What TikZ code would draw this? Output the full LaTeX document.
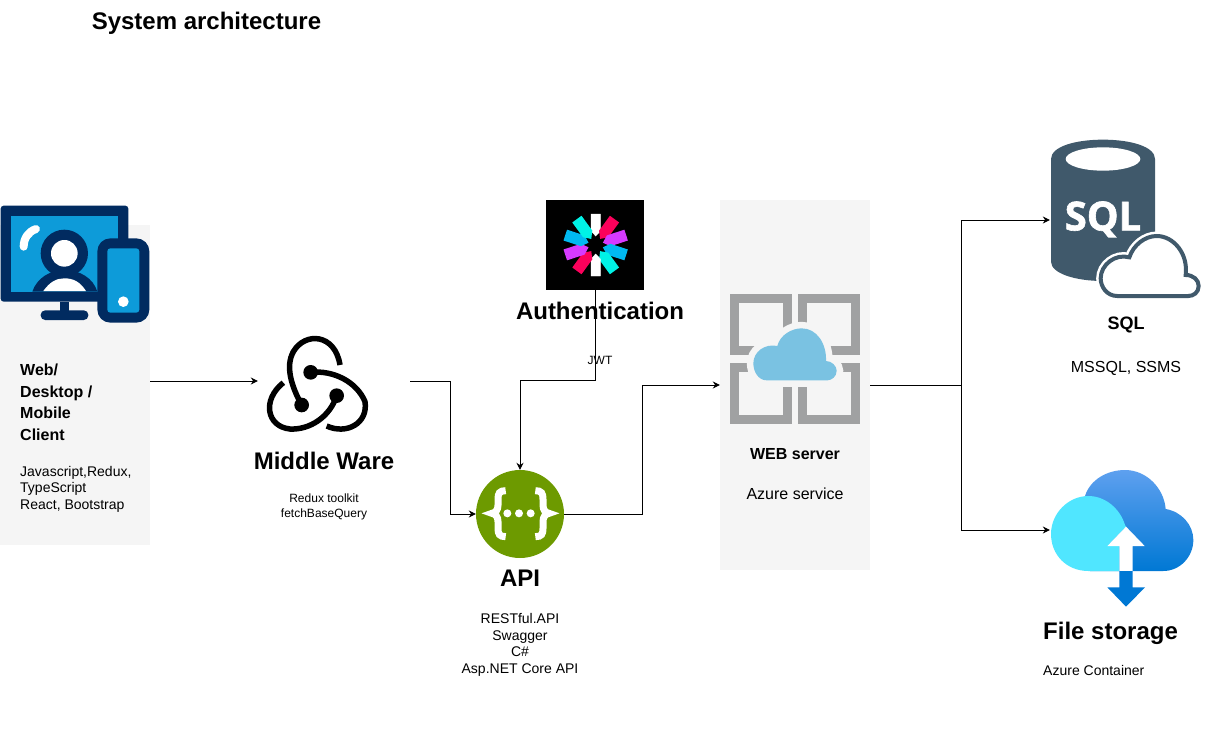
\documentclass[tikz,border=0pt]{standalone}
\usepackage{fontspec}
\setmainfont{Liberation Sans}
\newfontfamily\sqlfont[BoldFeatures={FakeBold=1.5}]{Open Sans}
\usepackage{tikz}
\usetikzlibrary{arrows.meta}
\definecolor{panelgray}{HTML}{F5F5F5}
\definecolor{clientnavy}{HTML}{012B60}
\definecolor{clientblue}{HTML}{0D9BD9}
\definecolor{jwtpink}{HTML}{FB015B}
\definecolor{jwtviolet}{HTML}{D63AFF}
\definecolor{jwtblue}{HTML}{00B9F1}
\definecolor{jwtteal}{HTML}{00F2E6}
\definecolor{apigreen}{HTML}{6D9A00}
\definecolor{webgray}{HTML}{A0A1A2}
\definecolor{webcloud}{HTML}{7AC2E2}
\definecolor{sqlslate}{HTML}{40596B}
\definecolor{storecyan}{HTML}{50E6FF}
\definecolor{storetop}{HTML}{5EA0EF}
\definecolor{storeblue}{HTML}{0078D4}
\tikzset{
  link/.style={->,>={Stealth[length=7pt,width=7pt]},line width=0.9pt},
  panel/.style={fill=panelgray,inner sep=0pt,minimum width=150pt},
  slot/.style={inner sep=0pt},
  heading/.style={font=\bfseries\fontsize{24}{28}\selectfont,inner sep=0pt},
  subheading/.style={font=\bfseries\fontsize{16}{21.5}\selectfont,inner sep=0pt},
  detail/.style={font=\fontsize{14}{16.5}\selectfont,inner sep=0pt},
  small/.style={font=\fontsize{12}{15}\selectfont,inner sep=0pt},
  plain/.style={font=\fontsize{16}{18}\selectfont,inner sep=0pt},
}
% one ray of the token logo: colour, angle, extra edge
\newcommand{\jwtray}[3]{\filldraw[#1,line width=#3,rotate around={-#2:(595.7,245)}] (591,214) -- (600.4,214) -- (600.4,231) -- (595.7,236) -- (591,231) -- cycle;}
\begin{document}
\begin{tikzpicture}[x=1pt,y=-1pt]
\useasboundingbox (0,0) rectangle (1222,733);
\node[heading] (title) at (206.5,23) {System architecture};

% panels and blocks
\node[panel,minimum height=320pt] (client) at (75,385) {};
\node[panel,minimum height=370pt] (web) at (795,385) {};
\node[slot,minimum width=152pt,minimum height=100pt] (mw) at (334,381) {};
\node[fill=black,slot,minimum width=98pt,minimum height=90pt] (jwt) at (595,245) {};
\node[circle,fill=apigreen,slot,minimum size=88pt] (api) at (520,514) {};
\node[slot,minimum width=150pt,minimum height=160pt] (sql) at (1125,220) {};
\node[slot,minimum width=150pt,minimum height=120pt] (store) at (1125,530) {};
\coordinate (bendauth) at (595.5,380);
\coordinate (bendmw) at (450,514);
\coordinate (bendapi) at (642,385);
\coordinate (bendweb) at (961,385);

% connectors
\draw[link] (mw.west -| client.east) -- (mw.west);
\draw[link] (mw.east) -| (bendmw) -- (api.west);
\draw[link] (jwt.south -| bendauth) -- (bendauth) -| (api.north);
\draw[link] (api.east) -| (bendapi) -- (web.west);
\draw[link] (web.east) -- (bendweb) |- (sql.west);
\draw[link] (bendweb) |- (store.west);

% client icon
\begin{scope}[shift={(0,190)},scale=1/3]
\fill[clientnavy,rounded corners=3pt] (2,47) rectangle (385,335);
\fill[clientblue] (32,78) rectangle (355,305);
\draw[white,line width=8pt,line cap=round] (71,170) .. controls (71,145) and (85,125) .. (108,117);
\fill[clientnavy] (97,305) .. controls (110,265) and (150,240) .. (193,240) .. controls (240,240) and (280,265) .. (292,305) -- cycle;
\fill[white] (130,303) .. controls (150,275) and (170,265) .. (193,265) .. controls (220,265) and (240,275) .. (258,303) -- cycle;
\fill[clientnavy] (193,190) circle (71);
\fill[white] (193,190) circle (40);
\fill[clientnavy] (180,335) rectangle (208,365);
\fill[clientnavy,rounded corners=4.5pt] (122,361) rectangle (265,390);
\fill[clientnavy,rounded corners=13pt] (292,145) rectangle (448,398);
\fill[clientblue,rounded corners=3pt] (322,175) rectangle (418,368);
\fill[white] (370,335) circle (16);
\end{scope}

% redux icon
\begin{scope}[shift={(250,320)},scale=1/3,line width=5.5pt]
\draw (155,255) .. controls (125,200) and (105,140) .. (130,95) .. controls (165,35) and (255,40) .. (270,135);
\draw (182,157) .. controls (250,150) and (320,185) .. (345,245) .. controls (355,310) and (290,345) .. (230,318);
\draw (260,227) .. controls (240,290) and (180,330) .. (120,327) .. controls (50,320) and (35,240) .. (100,188);
\fill (155,255) circle (22);
\fill (182,157) circle (22);
\fill (260,227) circle (22);
\end{scope}

% jwt icon
\jwtray{white}{0}{0.4pt}
\jwtray{jwtpink}{36}{2pt}
\jwtray{jwtviolet}{72}{2pt}
\jwtray{jwtblue}{108}{2pt}
\jwtray{jwtteal}{144}{2pt}
\jwtray{white}{180}{0.4pt}
\jwtray{jwtpink}{216}{2pt}
\jwtray{jwtviolet}{252}{2pt}
\jwtray{jwtblue}{288}{2pt}
\jwtray{jwtteal}{324}{2pt}

% api icon
\begin{scope}[shift={(460,460)},scale=1/3]
\draw[white,line width=7pt] (137,92) .. controls (118,92) and (114,100) .. (114,118) -- (114,135) .. controls (114,150) and (107,158) .. (96,160) .. controls (107,162) and (114,170) .. (114,185) -- (114,205) .. controls (114,222) and (118,230) .. (137,230);
\draw[white,line width=7pt] (226,92) .. controls (245,92) and (249,100) .. (249,118) -- (249,135) .. controls (249,150) and (256,158) .. (267,160) .. controls (256,162) and (249,170) .. (249,185) -- (249,205) .. controls (249,222) and (245,230) .. (226,230);
\fill[white] (142,160) circle (12);
\fill[white] (177,160) circle (12);
\fill[white] (212,160) circle (12);
\end{scope}

% web server icon
\begin{scope}[shift={(720,280)},scale=1/3]
\draw[webgray,line width=9pt] (43.5,55) rectangle (201.5,212);
\draw[webgray,line width=9pt] (248.5,55) rectangle (406.5,212);
\draw[webgray,line width=9pt] (43.5,261.5) rectangle (201.5,419);
\draw[webgray,line width=9pt] (248.5,261.5) rectangle (406.5,419);
\draw[panelgray,line width=13pt,fill=webcloud] (140,301) .. controls (115,301) and (100,275) .. (100,250) .. controls (100,215) and (135,190) .. (172,198) .. controls (180,165) and (215,145) .. (245,145) .. controls (290,145) and (320,190) .. (318,243) .. controls (335,243) and (350,258) .. (350,272) .. controls (350,290) and (335,301) .. (322,301) -- cycle;
\fill[webcloud] (140,301) .. controls (115,301) and (100,275) .. (100,250) .. controls (100,215) and (135,190) .. (172,198) .. controls (180,165) and (215,145) .. (245,145) .. controls (290,145) and (320,190) .. (318,243) .. controls (335,243) and (350,258) .. (350,272) .. controls (350,290) and (335,301) .. (322,301) -- cycle;
\end{scope}

% sql icon
\begin{scope}[shift={(1040,130)},scale=1/3]
\fill[sqlslate] (33,87) .. controls (33,50) and (105,29) .. (189,29) .. controls (273,29) and (345,50) .. (345,87) -- (345,395) .. controls (345,430) and (273,453) .. (189,453) .. controls (105,453) and (33,430) .. (33,395) -- cycle;
\fill[white] (189,87) ellipse (112 and 35);
\node[font=\sqlfont\bfseries\fontsize{40}{44}\selectfont,text=white,inner sep=0pt] (sqlmark) at (189,268) {SQL};
\draw[white,line width=9pt,fill=white] (232,498) .. controls (200,498) and (182,470) .. (182,445) .. controls (182,405) and (225,370) .. (268,382) .. controls (280,345) and (315,318) .. (350,318) .. controls (400,318) and (445,370) .. (437,435) .. controls (460,435) and (476,450) .. (476,468) .. controls (476,488) and (460,498) .. (445,498) -- cycle;
\draw[sqlslate,line width=4pt,fill=white] (232,498) .. controls (200,498) and (182,470) .. (182,445) .. controls (182,405) and (225,370) .. (268,382) .. controls (280,345) and (315,318) .. (350,318) .. controls (400,318) and (445,370) .. (437,435) .. controls (460,435) and (476,450) .. (476,468) .. controls (476,488) and (460,498) .. (445,498) -- cycle;
\end{scope}

% file storage icon
\begin{scope}[shift={(1040,460)},scale=1/3]
\shade[top color=storetop,bottom color=storeblue] (150,333) -- (135,108) .. controls (150,60) and (200,30) .. (255,30) .. controls (320,30) and (372,85) .. (377,147) .. controls (425,155) and (460,195) .. (460,240) .. controls (460,290) and (420,333) .. (370,333) -- cycle;
\fill[storecyan] (145,333) .. controls (80,333) and (33,285) .. (33,222) .. controls (33,160) and (85,108) .. (145,108) .. controls (195,108) and (240,145) .. (255,195) -- (258,200) -- (202,258) -- (238,258) -- (238,333) -- cycle;
\fill[white] (258,200) -- (314,258) -- (278,258) -- (278,333) -- (238,333) -- (238,258) -- (202,258) -- cycle;
\fill[storeblue] (238,333) -- (278,333) -- (278,382) -- (315,382) -- (258,440) -- (202,382) -- (238,382) -- cycle;
\end{scope}

% labels
\node[subheading,align=left,anchor=north west] (clientname) at (20,364) {Web/\\Desktop /\\Mobile\\Client};
\node[detail,align=left,anchor=north west] (clientstack) at (20,466) {Javascript,Redux,\\TypeScript\\React, Bootstrap};
\node[heading] (mwname) at (324,461) {Middle Ware};
\node[small,align=center] (mwstack) at (324,506.5) {Redux toolkit\\fetchBaseQuery};
\node[heading] (authname) at (600,311) {Authentication};
\node[small] (jwtname) at (600,360) {JWT};
\node[heading] (apiname) at (520,578) {API};
\node[detail,align=center] (apistack) at (520,645) {RESTful.API\\Swagger\\C\#\\Asp.NET Core API};
\node[subheading] (webname) at (795,454) {WEB server};
\node[plain] (webstack) at (795,493.5) {Azure service};
\node[subheading,font=\bfseries\fontsize{18}{21}\selectfont] (sqlname) at (1126,325) {SQL};
\node[plain] (sqlstack) at (1126,368) {MSSQL, SSMS};
\node[heading] (storename) at (1110.5,633) {File storage};
\node[detail,anchor=west] (storestack) at (1043,670) {Azure Container};
\end{tikzpicture}
\end{document}
